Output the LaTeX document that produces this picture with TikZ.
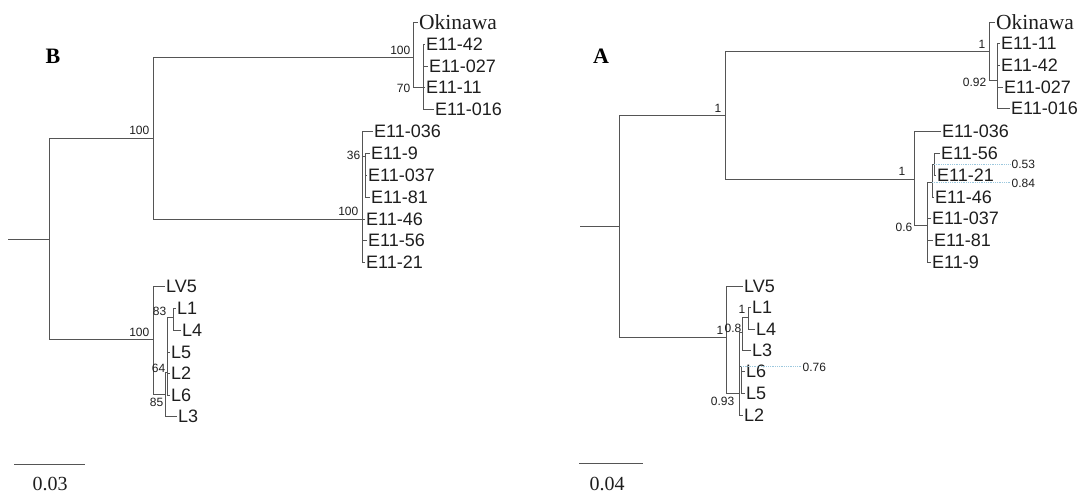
\documentclass[tikz,border=0pt]{standalone}
\usepackage{fontspec}
\setmainfont{Liberation Serif}
\setsansfont{Liberation Sans}
\usetikzlibrary{positioning}
\definecolor{ink}{HTML}{1E1E1E}
\definecolor{branchgray}{HTML}{555555}
\definecolor{notecyan}{HTML}{9CC8DE}

\begin{document}
\begin{tikzpicture}[x=1pt,y=-1pt,
  branch/.style={branchgray,line width=0.9pt},
  leaf/.style={anchor=west,inner sep=1pt,color=ink,font=\sffamily\fontsize{18}{20}\selectfont},
  okilabel/.style={anchor=west,inner sep=1pt,color=ink,font=\fontsize{21.5}{23}\selectfont},
  supp/.style={inner sep=0.5pt,color=ink,font=\sffamily\fontsize{12}{13}\selectfont},
  panel/.style={color=black,font=\bfseries\fontsize{22}{24}\selectfont},
  scalelabel/.style={color=ink,font=\fontsize{20}{22}\selectfont},
  marker/.style={notecyan,densely dotted,line width=0.8pt}]
\useasboundingbox (0,0) rectangle (1092,500);

% ---------- panel B ----------
\node[panel] (labB) at (53,56) {B};
% internal nodes
\coordinate (bRoot) at (8,239);
\coordinate (bR) at (49,239);
\coordinate (bE) at (153,138);
\coordinate (bOk) at (413,57);
\coordinate (b70) at (423,87);
\coordinate (bM) at (362,219);
\coordinate (b36) at (365,156);
\coordinate (bL) at (153,339);
\coordinate (b85) at (165,394);
\coordinate (b64) at (167,372);
\coordinate (b83) at (173,317);
% leaves
\node[okilabel] (bOki) at (418,22) {Okinawa};
\node[leaf] (b42) at (425,44) {E11-42};
\node[leaf] (b027) at (428,66) {E11-027};
\node[leaf] (b11) at (425,87) {E11-11};
\node[leaf] (b016) at (434,109) {E11-016};
\node[leaf] (b036) at (373,131) {E11-036};
\node[leaf] (b9) at (370,153) {E11-9};
\node[leaf] (b037) at (367,175) {E11-037};
\node[leaf] (b81) at (370,197) {E11-81};
\node[leaf] (b46) at (365,219) {E11-46};
\node[leaf] (b56) at (367,240) {E11-56};
\node[leaf] (b21) at (365,262) {E11-21};
\node[leaf] (bLV5) at (165,286) {LV5};
\node[leaf] (bL1) at (176,308) {L1};
\node[leaf] (bL4) at (181,330) {L4};
\node[leaf] (bL5) at (170,352) {L5};
\node[leaf] (bL2) at (170,373) {L2};
\node[leaf] (bL6) at (170,395) {L6};
\node[leaf] (bL3) at (177,416) {L3};
% branches
\draw[branch] (bRoot) -- (bR);
\draw[branch] (bR) |- (bE);
\draw[branch] (bR) |- (bL);
\draw[branch] (bE) |- (bOk);
\draw[branch] (bE) |- (bM);
\draw[branch] (bOk) |- (bOki.west);
\draw[branch] (bOk) |- (b70);
\foreach \t in {b42,b027,b11,b016} \draw[branch] (b70) |- (\t.west);
\foreach \t in {b036,b46,b56,b21} \draw[branch] (bM) |- (\t.west);
\draw[branch] (bM) |- (b36);
\foreach \t in {b9,b037,b81} \draw[branch] (b36) |- (\t.west);
\draw[branch] (bL) |- (bLV5.west);
\draw[branch] (bL) |- (b85);
\draw[branch] (b85) |- (b64);
\draw[branch] (b85) |- (bL3.west);
\draw[branch] (b64) |- (b83);
\foreach \t in {bL5,bL2,bL6} \draw[branch] (b64) |- (\t.west);
\foreach \t in {bL1,bL4} \draw[branch] (b83) |- (\t.west);
% support values
\node[supp,anchor=south east] (sbE) at (150,135) {100};
\node[supp,anchor=south east] (sbOk) at (411,55) {100};
\node[supp,anchor=east] (sb70) at (411,88) {70};
\node[supp,anchor=east] (sb36) at (361,155) {36};
\node[supp,anchor=south east] (sbM) at (359,216) {100};
\node[supp,anchor=south east] (sbL) at (150,337) {100};
\node[supp,anchor=east] (sb83) at (167,311) {83};
\node[supp,anchor=east] (sb64) at (166,368) {64};
\node[supp,anchor=north east] (sb85) at (164,397) {85};
% scale bar
\coordinate (bsL) at (14,464);
\coordinate (bsR) at (85,464);
\draw[branch] (bsL) -- (bsR);
\node[scalelabel] (bsT) at (50,484) {0.03};

% ---------- panel A ----------
\node[panel] (labA) at (601,56) {A};
% internal nodes
\coordinate (aRoot) at (580,226);
\coordinate (aR) at (619,226);
\coordinate (aE) at (725,115);
\coordinate (aOk) at (989,51);
\coordinate (a92) at (997,80);
\coordinate (aM) at (914,179);
\coordinate (a6) at (927,225);
\coordinate (a84) at (932,182);
\coordinate (a53) at (934,164);
\coordinate (aL) at (726,337);
\coordinate (a93) at (739,393);
\coordinate (a8) at (742,332);
\coordinate (a1L) at (748,317);
\coordinate (a76) at (741,366);
% leaves
\node[okilabel] (aOki) at (995,22) {Okinawa};
\node[leaf] (a11) at (1000,43) {E11-11};
\node[leaf] (a42) at (1000,65) {E11-42};
\node[leaf] (a027) at (1003,87) {E11-027};
\node[leaf] (a016) at (1010,108) {E11-016};
\node[leaf] (a036) at (941,131) {E11-036};
\node[leaf] (a56) at (940,153) {E11-56};
\node[leaf] (a21) at (936,175) {E11-21};
\node[leaf] (a46) at (934,197) {E11-46};
\node[leaf] (a037) at (931,218) {E11-037};
\node[leaf] (a81) at (933,240) {E11-81};
\node[leaf] (a9) at (931,262) {E11-9};
\node[leaf] (aLV5) at (743,286) {LV5};
\node[leaf] (aL1) at (751,307) {L1};
\node[leaf] (aL4) at (755,329) {L4};
\node[leaf] (aL3) at (751,350) {L3};
\node[leaf] (aL6) at (745,371) {L6};
\node[leaf] (aL5) at (745,393) {L5};
\node[leaf] (aL2) at (743,415) {L2};
% branches
\draw[branch] (aRoot) -- (aR);
\draw[branch] (aR) |- (aE);
\draw[branch] (aR) |- (aL);
\draw[branch] (aE) |- (aOk);
\draw[branch] (aE) |- (aM);
\draw[branch] (aOk) |- (aOki.west);
\draw[branch] (aOk) |- (a92);
\foreach \t in {a11,a42,a027,a016} \draw[branch] (a92) |- (\t.west);
\draw[branch] (aM) |- (a036.west);
\draw[branch] (aM) |- (a6);
\draw[branch] (a6) |- (a84);
\foreach \t in {a037,a81,a9} \draw[branch] (a6) |- (\t.west);
\draw[branch] (a84) |- (a53);
\draw[branch] (a84) |- (a46.west);
\foreach \t in {a56,a21} \draw[branch] (a53) |- (\t.west);
\draw[branch] (aL) |- (aLV5.west);
\draw[branch] (aL) |- (a93);
\draw[branch] (a93) |- (a8);
\draw[branch] (a93) |- (a76);
\draw[branch] (a93) |- (aL2.west);
\draw[branch] (a8) |- (a1L);
\draw[branch] (a8) |- (aL3.west);
\foreach \t in {aL1,aL4} \draw[branch] (a1L) |- (\t.west);
\foreach \t in {aL6,aL5} \draw[branch] (a76) |- (\t.west);
% support values
\node[supp,anchor=south east] (saE) at (722,113) {1};
\node[supp,anchor=south east] (saOk) at (986,49) {1};
\node[supp,anchor=east] (sa92) at (987,82) {0.92};
\node[supp,anchor=south east] (saM) at (906,176) {1};
\node[supp,anchor=east] (sa6) at (913,227) {0.6};
\node[supp,anchor=south east] (saL) at (724,335) {1};
\node[supp,anchor=south east] (sa8) at (742,333) {0.8};
\node[supp,anchor=east] (sa1L) at (746,309) {1};
\node[supp,anchor=east] (sa93) at (735,401) {0.93};
% dotted call-outs
\node[supp,anchor=west] (sa53) at (1011,164) {0.53};
\node[supp,anchor=west] (sa84) at (1011,183) {0.84};
\node[supp,anchor=west] (sa76) at (802,367) {0.76};
\draw[marker] (a53) -- (sa53.west |- a53);
\draw[marker] (a84) -- (sa84.west |- a84);
\draw[marker] (a76) -- (sa76.west |- a76);
% scale bar
\coordinate (asL) at (579,463);
\coordinate (asR) at (643,463);
\draw[branch] (asL) -- (asR);
\node[scalelabel] (asT) at (607,484) {0.04};
\end{tikzpicture}
\end{document}
